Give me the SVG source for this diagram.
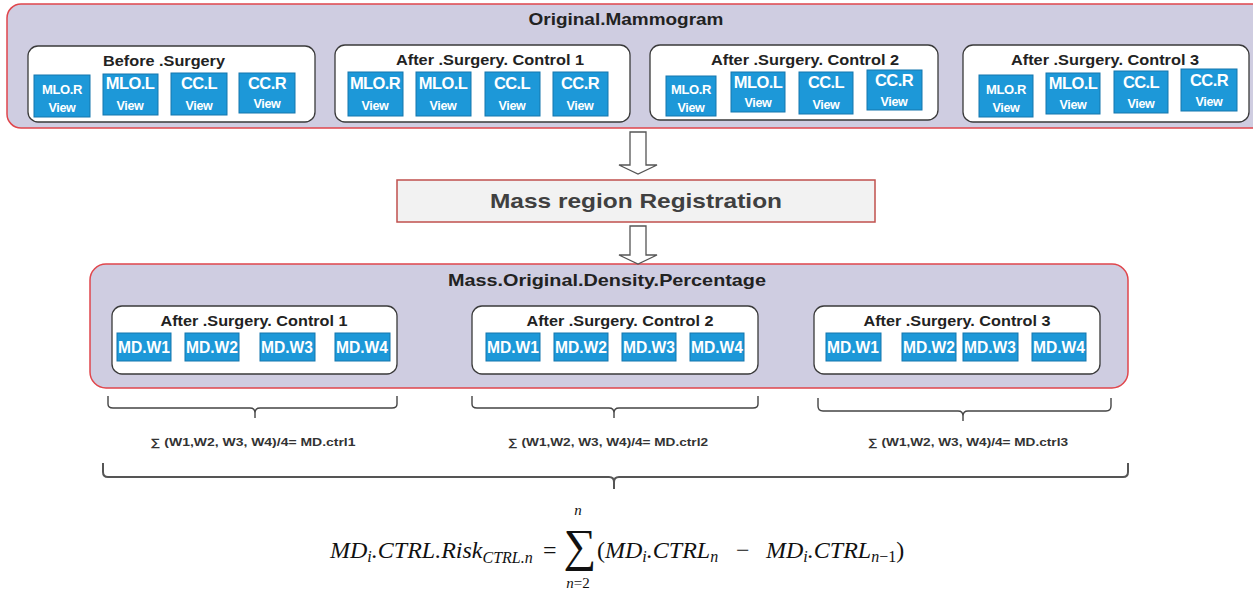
<svg xmlns="http://www.w3.org/2000/svg" width="1253" height="589" viewBox="0 0 1253 589">
  <style>
    .panel { fill: #cfcde1; stroke: #e0464c; stroke-width: 1.5; }
    .group { fill: #ffffff; stroke: #3a3a3a; stroke-width: 1.3; }
    .tile { fill: #1d98d8; stroke: #1476ad; stroke-width: 1; }
    .title { font-family: "Liberation Sans", Arial, sans-serif; font-weight: bold; fill: #222; text-anchor: middle; }
    .gtitle { font-family: "Liberation Sans", Arial, sans-serif; font-weight: bold; font-size: 14.5px; fill: #222; text-anchor: middle; }
    .tl { font-family: "Liberation Sans", Arial, sans-serif; font-weight: bold; fill: #ffffff; text-anchor: middle; }
    .big { font-size: 16.5px; letter-spacing: -0.6px; }
    .sm { font-size: 13px; letter-spacing: -0.4px; }
    .vw { font-size: 12.5px; letter-spacing: -0.3px; }
    .md { font-size: 16px; }
    .brace { fill: none; stroke: #444; stroke-width: 1.4; }
    .bigbrace { fill: none; stroke: #555; stroke-width: 2; }
    .note { font-family: "Liberation Sans", Arial, sans-serif; font-weight: bold; font-size: 11px; fill: #333; text-anchor: middle; }
    .arrow { fill: #ffffff; stroke: #555; stroke-width: 1.3; }
    .eq { font-family: "Liberation Serif", "DejaVu Serif", serif; font-style: italic; fill: #111; }
  </style>

  <!-- Original mammogram panel -->
  <g id="original-mammogram">
    <rect class="panel" x="7" y="4" width="1260" height="124" rx="14"/>
    <text class="title" x="626" y="25" font-size="16.5" textLength="195" lengthAdjust="spacingAndGlyphs">Original.Mammogram</text>
  </g>

  <g id="before-surgery">
    <rect class="group" x="28" y="46" width="287" height="76" rx="10"/>
    <text class="gtitle" x="164" y="66" textLength="122" lengthAdjust="spacingAndGlyphs">Before .Surgery</text>
    <rect class="tile" x="34" y="75" width="56" height="42"/>
    <text class="tl sm" x="62" y="94">MLO.R</text><text class="tl vw" x="62" y="112">View</text>
    <rect class="tile" x="103" y="74" width="55" height="41"/>
    <text class="tl big" x="130" y="89">MLO.L</text><text class="tl vw" x="130" y="110">View</text>
    <rect class="tile" x="171" y="73" width="56" height="42"/>
    <text class="tl big" x="199" y="89">CC.L</text><text class="tl vw" x="199" y="110">View</text>
    <rect class="tile" x="239" y="73" width="56" height="40"/>
    <text class="tl big" x="267" y="89">CC.R</text><text class="tl vw" x="267" y="108">View</text>
  </g>

  <g id="after-control-1">
    <rect class="group" x="335" y="45" width="295" height="77" rx="10"/>
    <text class="gtitle" x="490" y="65" textLength="188" lengthAdjust="spacingAndGlyphs">After .Surgery. Control 1</text>
    <rect class="tile" x="348" y="72" width="55" height="44"/>
    <text class="tl big" x="375" y="89">MLO.R</text><text class="tl vw" x="375" y="110">View</text>
    <rect class="tile" x="416" y="72" width="55" height="44"/>
    <text class="tl big" x="443" y="89">MLO.L</text><text class="tl vw" x="443" y="110">View</text>
    <rect class="tile" x="485" y="72" width="55" height="44"/>
    <text class="tl big" x="512" y="89">CC.L</text><text class="tl vw" x="512" y="110">View</text>
    <rect class="tile" x="553" y="72" width="55" height="44"/>
    <text class="tl big" x="580" y="89">CC.R</text><text class="tl vw" x="580" y="110">View</text>
  </g>

  <g id="after-control-2">
    <rect class="group" x="650" y="45" width="288" height="75" rx="10"/>
    <text class="gtitle" x="805" y="65" textLength="188" lengthAdjust="spacingAndGlyphs">After .Surgery. Control 2</text>
    <rect class="tile" x="666" y="76" width="50" height="40"/>
    <text class="tl sm" x="691" y="94">MLO.R</text><text class="tl vw" x="691" y="112">View</text>
    <rect class="tile" x="731" y="72" width="54" height="40"/>
    <text class="tl big" x="758" y="88">MLO.L</text><text class="tl vw" x="758" y="107">View</text>
    <rect class="tile" x="799" y="72" width="54" height="42"/>
    <text class="tl big" x="826" y="88">CC.L</text><text class="tl vw" x="826" y="109">View</text>
    <rect class="tile" x="867" y="70" width="55" height="40"/>
    <text class="tl big" x="894" y="86">CC.R</text><text class="tl vw" x="894" y="106">View</text>
  </g>

  <g id="after-control-3">
    <rect class="group" x="963" y="45" width="286" height="77" rx="10"/>
    <text class="gtitle" x="1105" y="65" textLength="188" lengthAdjust="spacingAndGlyphs">After .Surgery. Control 3</text>
    <rect class="tile" x="979" y="75" width="54" height="42"/>
    <text class="tl sm" x="1006" y="94">MLO.R</text><text class="tl vw" x="1006" y="112">View</text>
    <rect class="tile" x="1046" y="73" width="54" height="41"/>
    <text class="tl big" x="1073" y="89">MLO.L</text><text class="tl vw" x="1073" y="109">View</text>
    <rect class="tile" x="1114" y="71" width="54" height="42"/>
    <text class="tl big" x="1141" y="88">CC.L</text><text class="tl vw" x="1141" y="108">View</text>
    <rect class="tile" x="1181" y="69" width="56" height="42"/>
    <text class="tl big" x="1209" y="86">CC.R</text><text class="tl vw" x="1209" y="106">View</text>
  </g>

  <!-- Registration step -->
  <g id="registration">
    <rect x="397" y="180" width="478" height="42" fill="#f2f2f2" stroke="#c0504d" stroke-width="1.5"/>
    <text class="title" x="636" y="208" font-size="21" style="fill:#404040" textLength="292" lengthAdjust="spacingAndGlyphs">Mass region Registration</text>
  </g>

  <!-- Mass original density panel -->
  <g id="mass-density">
    <rect class="panel" x="90" y="264" width="1038" height="124" rx="16"/>
    <text class="title" x="607" y="286" font-size="17" textLength="318" lengthAdjust="spacingAndGlyphs">Mass.Original.Density.Percentage</text>
  </g>

  <g id="density-control-1">
    <rect class="group" x="112" y="306" width="285" height="68" rx="10"/>
    <text class="gtitle" x="254" y="326" textLength="187" lengthAdjust="spacingAndGlyphs">After .Surgery. Control 1</text>
    <rect class="tile" x="117" y="333" width="54" height="28"/><text class="tl md" x="144" y="353" textLength="52" lengthAdjust="spacingAndGlyphs">MD.W1</text>
    <rect class="tile" x="185" y="333" width="54" height="28"/><text class="tl md" x="212" y="353" textLength="52" lengthAdjust="spacingAndGlyphs">MD.W2</text>
    <rect class="tile" x="260" y="333" width="55" height="28"/><text class="tl md" x="287" y="353" textLength="52" lengthAdjust="spacingAndGlyphs">MD.W3</text>
    <rect class="tile" x="335" y="333" width="55" height="28"/><text class="tl md" x="362" y="353" textLength="52" lengthAdjust="spacingAndGlyphs">MD.W4</text>
  </g>

  <g id="density-control-2">
    <rect class="group" x="472" y="306" width="286" height="68" rx="10"/>
    <text class="gtitle" x="620" y="326" textLength="187" lengthAdjust="spacingAndGlyphs">After .Surgery. Control 2</text>
    <rect class="tile" x="486" y="333" width="54" height="28"/><text class="tl md" x="513" y="353" textLength="52" lengthAdjust="spacingAndGlyphs">MD.W1</text>
    <rect class="tile" x="554" y="333" width="54" height="28"/><text class="tl md" x="581" y="353" textLength="52" lengthAdjust="spacingAndGlyphs">MD.W2</text>
    <rect class="tile" x="622" y="333" width="54" height="28"/><text class="tl md" x="649" y="353" textLength="52" lengthAdjust="spacingAndGlyphs">MD.W3</text>
    <rect class="tile" x="690" y="333" width="54" height="28"/><text class="tl md" x="717" y="353" textLength="52" lengthAdjust="spacingAndGlyphs">MD.W4</text>
  </g>

  <g id="density-control-3">
    <rect class="group" x="814" y="306" width="286" height="68" rx="10"/>
    <text class="gtitle" x="957" y="326" textLength="187" lengthAdjust="spacingAndGlyphs">After .Surgery. Control 3</text>
    <rect class="tile" x="826" y="333" width="55" height="28"/><text class="tl md" x="853" y="353" textLength="52" lengthAdjust="spacingAndGlyphs">MD.W1</text>
    <rect class="tile" x="902" y="333" width="54" height="28"/><text class="tl md" x="929" y="353" textLength="52" lengthAdjust="spacingAndGlyphs">MD.W2</text>
    <rect class="tile" x="963" y="333" width="55" height="28"/><text class="tl md" x="990" y="353" textLength="52" lengthAdjust="spacingAndGlyphs">MD.W3</text>
    <rect class="tile" x="1032" y="333" width="54" height="28"/><text class="tl md" x="1059" y="353" textLength="52" lengthAdjust="spacingAndGlyphs">MD.W4</text>
  </g>

  <!-- Connectors: hollow block arrows and grouping braces -->
  <g id="connectors">
    <path class="arrow" d="M630,132 H646 V165 H657 L638,174 L619,165 H630 Z"/>
    <path class="arrow" d="M630,226 H646 V255 H657 L638,264 L619,255 H630 Z"/>

    <path class="brace" d="M108,396 V404 Q108,408 113,408 H250 Q255,408 255,413 V418 M255,413 Q255,408 260,408 H392 Q397,408 397,404 V396"/>
    <path class="brace" d="M472,396 V404 Q472,408 477,408 H609 Q614,408 614,413 V418 M614,413 Q614,408 619,408 H753 Q758,408 758,404 V396"/>
    <path class="brace" d="M818,398 V406 Q818,411 823,411 H958 Q963,411 963,416 V421 M963,416 Q963,411 968,411 H1106 Q1111,411 1111,406 V398"/>
    <path class="bigbrace" d="M103,463 V472 Q103,477 108,477 H609 Q614,477 614,482 V489 M614,482 Q614,477 619,477 H1123 Q1128,477 1128,472 V463"/>
  </g>

  <g id="averages">
    <text class="note" x="253" y="446" textLength="205" lengthAdjust="spacingAndGlyphs">∑ (W1,W2, W3, W4)/4= MD.ctrl1</text>
    <text class="note" x="608" y="446" textLength="200" lengthAdjust="spacingAndGlyphs">∑ (W1,W2, W3, W4)/4= MD.ctrl2</text>
    <text class="note" x="968" y="446" textLength="200" lengthAdjust="spacingAndGlyphs">∑ (W1,W2, W3, W4)/4= MD.ctrl3</text>
  </g>

  <!-- Risk formula -->
  <g id="risk-formula" class="eq">
    <text x="330" y="558" font-size="24">MD<tspan font-size="16" dy="4">i</tspan><tspan dy="-4">.CTRL.Risk</tspan><tspan font-size="16" dy="5">CTRL.n</tspan></text>
    <text x="543" y="558" font-size="24" font-style="normal">=</text>
    <text x="580" y="561" font-size="46" font-style="normal" text-anchor="middle">∑</text>
    <text x="578" y="515" font-size="15" text-anchor="middle">n</text>
    <text x="578" y="588" font-size="15" text-anchor="middle">n<tspan font-style="normal">=2</tspan></text>
    <text x="597" y="558" font-size="24"><tspan font-style="normal">(</tspan>MD<tspan font-size="16" dy="4">i</tspan><tspan dy="-4">.CTRL</tspan><tspan font-size="16" dy="4">n</tspan></text>
    <text x="736" y="558" font-size="24" font-style="normal">−</text>
    <text x="766" y="558" font-size="24">MD<tspan font-size="16" dy="4">i</tspan><tspan dy="-4">.CTRL</tspan><tspan font-size="16" dy="4">n<tspan font-style="normal">−1</tspan></tspan><tspan dy="-4" font-style="normal">)</tspan></text>
  </g>
</svg>
